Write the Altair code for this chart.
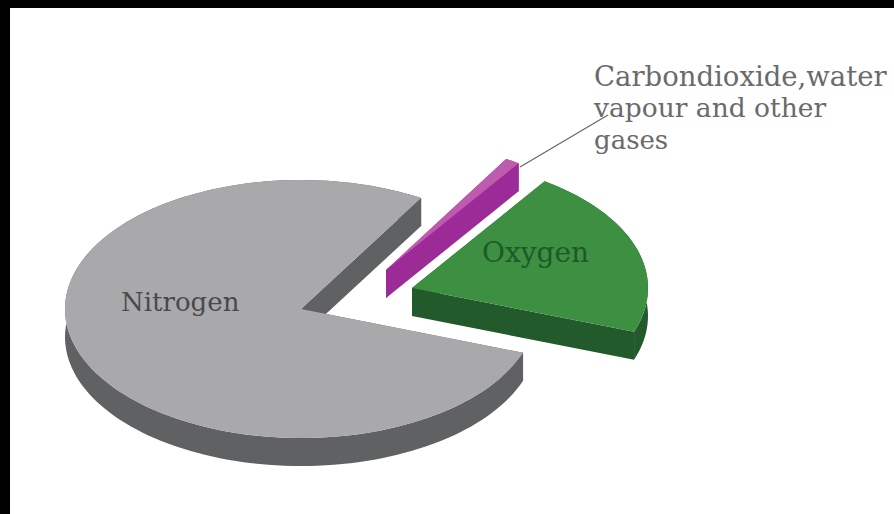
import math
import altair as alt

# Shares of the atmosphere, in percent
GASES = ["Nitrogen", "Oxygen", "Other gases"]
SHARES = [78, 21, 1]
TOP_COLOURS = ["#a9a9ab", "#3d8f42", "#bd5cae"]
SIDE_COLOURS = ["#606162", "#235a2c", "#9c2b98"]

LABELS = ["Nitrogen", "Oxygen", "Carbondioxide,water", "vapour and other", "gases"]
LABEL_COLOURS = ["#4a4a4a", "#1c5a28", "#6a6a6a", "#6a6a6a", "#6a6a6a"]

# Page layout
PAD_LEFT, PAD_TOP = 10, 7
PLOT_W, PLOT_H = 884, 507
RX, RY, DEPTH = 236, 129, 28
START_DEG = -19.8                    # the oxygen wedge starts here, going counter-clockwise
APEX = {"Nitrogen": (301, 308), "Oxygen": (412, 287), "Other gases": (386, 269)}
LABEL_XY = [(121, 302), (482, 253), (594, 77), (594, 108), (594, 140)]
LABEL_SIZE = [26, 28, 27.5, 26.5, 26]
LEADER = ((520, 166), (608, 114))


def page_xy(x, y):
    return [x - PAD_LEFT, y - PAD_TOP]


def wedge_outline(apex, a0, a1):
    """Rim points of a tilted wedge between two angles, in page coordinates."""
    steps = max(4, int(abs(a1 - a0) / 2))
    rim = []
    for i in range(steps + 1):
        t = math.radians(a0 + (a1 - a0) * i / steps)
        rim.append((apex[0] + RX * math.cos(t), apex[1] - RY * math.sin(t)))
    return rim


def feature(part, points):
    coords = [page_xy(x, y) for x, y in points]
    return {
        "type": "Feature",
        "properties": {"part": part},
        "geometry": {"type": "Polygon", "coordinates": [coords + [coords[0]]]},
    }


# Wedge angles follow from the shares: oxygen, then the sliver, then nitrogen all the way round
spans = {}
angle = START_DEG
for name in ["Oxygen", "Other gases", "Nitrogen"]:
    sweep = SHARES[GASES.index(name)] * 3.6
    spans[name] = (angle, angle + sweep)
    angle += sweep

frame = [(PAD_LEFT, PAD_TOP), (PAD_LEFT + PLOT_W, PAD_TOP),
         (PAD_LEFT + PLOT_W, PAD_TOP + PLOT_H), (PAD_LEFT, PAD_TOP + PLOT_H)]
features = [feature("panel", frame)]

for name in GASES:
    apex = APEX[name]
    rim = wedge_outline(apex, *spans[name])
    band = rim + [(x, y + DEPTH) for x, y in reversed(rim)]
    # Each wall is its own shape, so overlaps never cancel out when filled
    for edge in (rim[0], rim[-1]):
        wall = [apex, edge, (edge[0], edge[1] + DEPTH), (apex[0], apex[1] + DEPTH)]
        features.append(feature(name + " side", wall))
    features.append(feature(name + " side", band))
    features.append(feature(name + " top", [apex] + rim))

domain = ["panel"]
colours = ["white"]
for name, top, side in zip(GASES, TOP_COLOURS, SIDE_COLOURS):
    domain += [name + " side", name + " top"]
    colours += [side, top]

pie = alt.Chart(
    alt.Data(values={"type": "FeatureCollection", "features": features},
             format=alt.DataFormat(property="features", type="json"))
).mark_geoshape().encode(
    fill=alt.Fill("properties.part:N", scale=alt.Scale(domain=domain, range=colours), legend=None)
).project(type="identity")

(lx0, ly0), (lx1, ly1) = LEADER
leader = alt.Chart(alt.Data(values=[{"label": "leader"}])).mark_rule(
    color="#666666", strokeWidth=1.2
).encode(
    x=alt.value(lx0 - PAD_LEFT), x2=alt.value(lx1 - PAD_LEFT),
    y=alt.value(ly0 - PAD_TOP), y2=alt.value(ly1 - PAD_TOP),
)

layers = [pie, leader]
for text, colour, (x, y), size in zip(LABELS, LABEL_COLOURS, LABEL_XY, LABEL_SIZE):
    layers.append(
        alt.Chart(alt.Data(values=[{"label": text}])).mark_text(
            font="DejaVu Serif", fontSize=size, align="left", baseline="middle", color=colour
        ).encode(text="label:N", x=alt.value(x - PAD_LEFT), y=alt.value(y - PAD_TOP))
    )

chart = alt.layer(*layers).properties(
    width=PLOT_W,
    height=PLOT_H,
    background="black",
    padding={"left": PAD_LEFT, "top": PAD_TOP, "right": 0, "bottom": 0},
).configure_view(stroke=None)

chart.save("out.html", embed_options={"renderer": "svg", "actions": False})
